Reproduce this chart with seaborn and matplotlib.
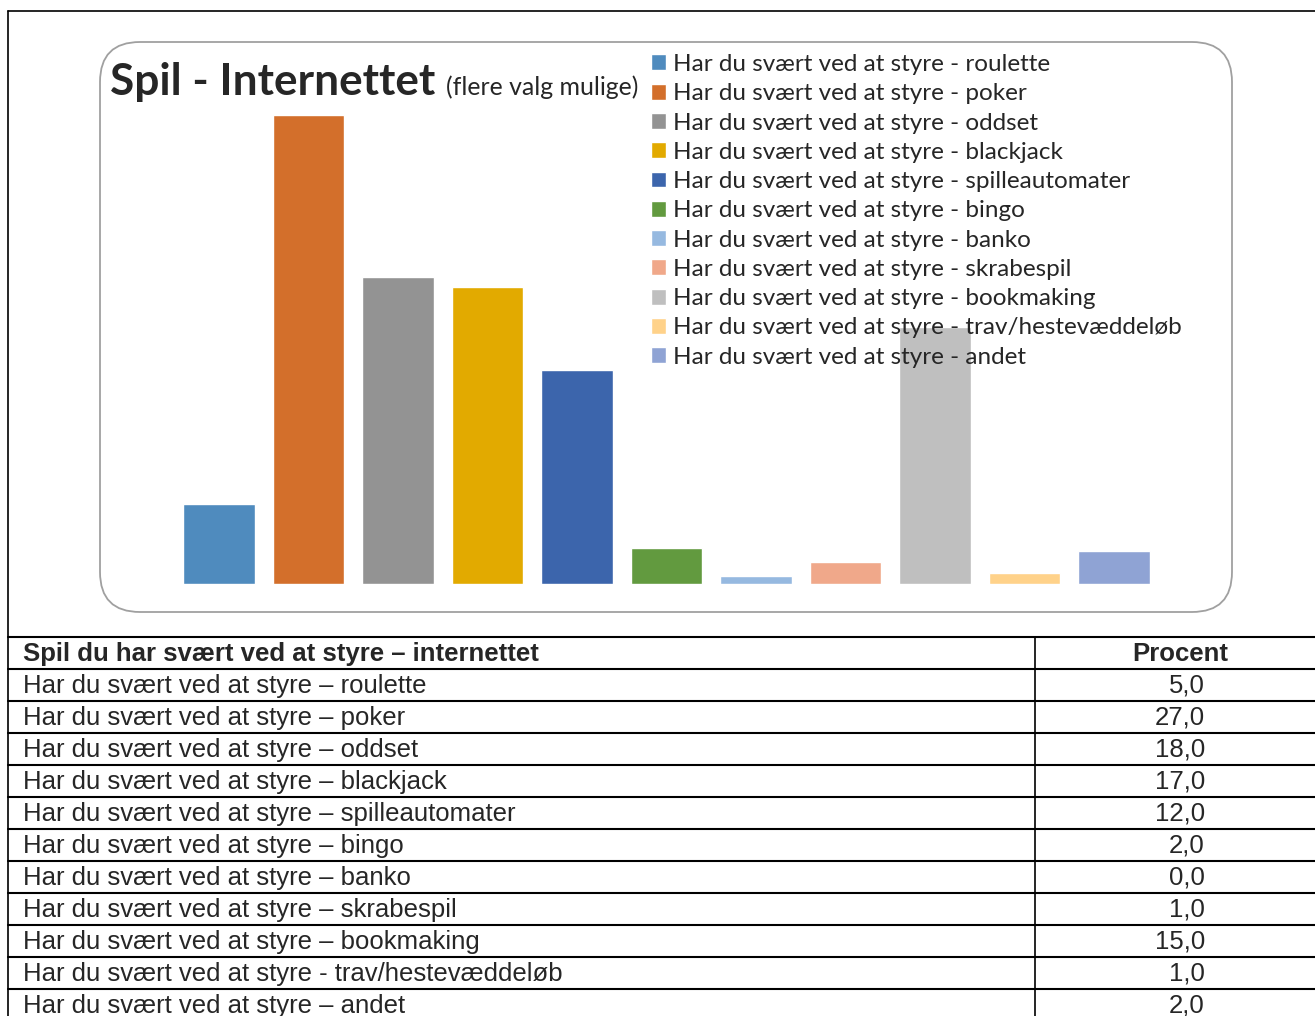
import numpy as np
import pandas as pd
import seaborn as sns
import matplotlib.pyplot as plt
from matplotlib.patches import FancyBboxPatch

# chart data (bar heights, table values as printed)
games = ['roulette', 'poker', 'oddset', 'blackjack', 'spilleautomater', 'bingo',
         'banko', 'skrabespil', 'bookmaking', 'trav/hestevæddeløb', 'andet']
bar_values = [4.6, 27.0, 17.7, 17.1, 12.3, 2.1, 0.46, 1.27, 14.8, 0.63, 1.9]
table_values = ['5,0', '27,0', '18,0', '17,0', '12,0', '2,0', '0,0', '1,0', '15,0', '1,0', '2,0']
colors = ['#4F8BBE', '#D36F2B', '#939393', '#E2AA00', '#3C65AC', '#629A3F',
          '#96B9E0', '#F0A88A', '#BFBFBF', '#FFD28A', '#8FA3D4']

legend_labels = ['Har du svært ved at styre - ' + g for g in games]
table_labels = ['Har du svært ved at styre – ' + g if g != 'trav/hestevæddeløb'
                else 'Har du svært ved at styre - ' + g for g in games]

df = pd.DataFrame({'label': legend_labels, 'value': bar_values})

sns.set_style('white')
W, H = 1315, 1016
fig = plt.figure(figsize=(W / 100, H / 100), dpi=100)

# background layer in pixel coords for frame, rounded box and table
bg = fig.add_axes([0, 0, 1, 1])
bg.set_xlim(0, W)
bg.set_ylim(H, 0)
bg.axis('off')

bg.plot([8, W], [11, 11], color='black', lw=1.2)
bg.plot([8, 8], [11, H], color='black', lw=1.2)
box = FancyBboxPatch((100, 42), 1132, 570, boxstyle='round,pad=0,rounding_size=40',
                     fc='white', ec='#A0A0A0', lw=1.3)
bg.add_patch(box)

# bar chart
ax = fig.add_axes([174.25 / W, 1 - 584 / H, 984.5 / W, 469 / H])
sns.barplot(data=df, x='label', y='value', hue='label', palette=colors,
            saturation=1, width=0.8, ax=ax, legend=True)
ax.set_ylim(0, 27)
ax.set_xlim(-0.5, len(games) - 0.5)
ax.axis('off')
ax.patch.set_alpha(0)

sns.move_legend(ax, 'upper left', bbox_to_anchor=(651 / W, 1 - 54 / H),
                bbox_transform=fig.transFigure, frameon=False, title=None,
                prop={'family': 'Lato', 'size': 17.5}, handlelength=0.63,
                handleheight=0.63, handletextpad=0.27, labelspacing=0.34,
                borderpad=0, borderaxespad=0)
ax.get_legend().set_zorder(5)

fig.text(110 / W, 1 - 95 / H, 'Spil - Internettet', fontsize=31.8, fontweight='bold',
         family='Lato', va='baseline', ha='left')
fig.text(446 / W, 1 - 95 / H, '(flere valg mulige)', fontsize=17.9, family='Lato',
         va='baseline', ha='left')

# table
row_h = 32
top = 637
n_rows = len(games) + 1
for i in range(n_rows + 1):
    y = top + i * row_h
    bg.plot([8, W], [y, y], color='black', lw=1.5)
bg.plot([1035, 1035], [top, H], color='black', lw=1.2)

tfont = {'family': 'Liberation Sans', 'size': 18.5}
bg.text(23, top + 24, 'Spil du har svært ved at styre – internettet', fontweight='bold',
        va='baseline', **tfont)
bg.text(1180, top + 24, 'Procent', fontweight='bold', ha='center', va='baseline', **tfont)
for i, (lab, val) in enumerate(zip(table_labels, table_values)):
    y = top + (i + 1) * row_h + 24
    bg.text(23, y, lab, va='baseline', **tfont)
    bg.text(1205, y, val, ha='right', va='baseline', **tfont)

fig.savefig('out.png', dpi=100)
